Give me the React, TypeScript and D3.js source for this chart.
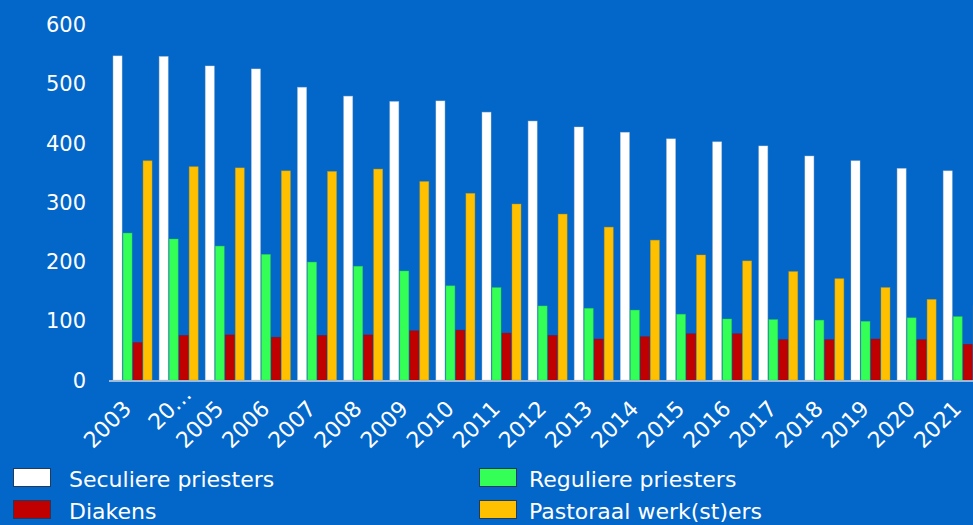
import React, { useEffect, useRef } from "react";
import * as d3 from "d3";

const years = [
  "2003", "2004", "2005", "2006", "2007", "2008", "2009", "2010", "2011", "2012",
  "2013", "2014", "2015", "2016", "2017", "2018", "2019", "2020", "2021",
];
// the reference truncates the 2004 label
const yearLabels = years.map((y) => (y === "2004" ? "20…" : y));

const seculiere = [547, 546, 530, 525, 494, 479, 470, 471, 452, 437, 427, 418, 407, 402, 395, 378, 370, 357, 353];
const reguliere = [248, 238, 226, 212, 199, 192, 184, 159, 156, 125, 121, 118, 111, 103, 102, 101, 99, 105, 107];
const diakens = [63, 75, 76, 72, 75, 76, 83, 84, 79, 75, 69, 73, 78, 78, 68, 68, 69, 68, 60];
const pastoraal = [370, 360, 358, 353, 352, 356, 335, 315, 297, 280, 258, 236, 211, 201, 183, 171, 156, 136, 125];

const seriesNames = ["Seculiere priesters", "Reguliere priesters", "Diakens", "Pastoraal werk(st)ers"];
const seriesColors = ["#ffffff", "#33ff57", "#c00000", "#ffc000"];
const yTicks = [0, 100, 200, 300, 400, 500, 600];

const W = 973;
const H = 525;
const BG = "#0366c9";
const FONT = "'DejaVu Sans', sans-serif";

const App: React.FC = () => {
  const svgRef = useRef<SVGSVGElement>(null);

  useEffect(() => {
    const svg = d3.select(svgRef.current);
    svg.selectAll("*").remove();

    const table = years.map((year, i) => ({
      year,
      values: [seculiere[i], reguliere[i], diakens[i], pastoraal[i]],
    }));

    const x = d3
      .scaleBand()
      .domain(years)
      .range([109.5, 985.8])
      .paddingInner(0.133)
      .paddingOuter(0.0665);
    const xSub = d3
      .scaleBand<number>()
      .domain([0, 1, 2, 3])
      .range([0, x.bandwidth()]);
    const y = d3.scaleLinear().domain([0, 600]).range([380, 24.5]);

    svg.append("rect").attr("width", W).attr("height", H).attr("fill", BG);

    // bars
    const groups = svg
      .append("g")
      .selectAll("g")
      .data(table)
      .join("g")
      .attr("transform", (d) => `translate(${x(d.year)},0)`);
    groups
      .selectAll("rect")
      .data((d) => d.values)
      .join("rect")
      .attr("x", (_, i) => xSub(i)! + 0.5)
      .attr("y", (v) => y(v))
      .attr("width", xSub.bandwidth() - 1)
      .attr("height", (v) => y(0) - y(v))
      .attr("fill", (_, i) => seriesColors[i])
      .attr("stroke", (_, i) => d3.color(seriesColors[i])!.darker(0.6).formatHex())
      .attr("stroke-opacity", 0.5)
      .attr("stroke-width", 0.8);

    // x axis line
    svg
      .append("line")
      .attr("x1", 109)
      .attr("x2", W)
      .attr("y1", 381)
      .attr("y2", 381)
      .attr("stroke", "#cfd6de")
      .attr("stroke-width", 1.6);

    // y tick labels
    svg
      .append("g")
      .selectAll("text")
      .data(yTicks)
      .join("text")
      .attr("x", 86)
      .attr("y", (d) => y(d))
      .attr("dy", "0.36em")
      .attr("text-anchor", "end")
      .attr("fill", "#ffffff")
      .style("font-family", FONT)
      .style("font-size", "21px")
      .text((d) => d);

    // x tick labels
    svg
      .append("g")
      .selectAll("text")
      .data(years)
      .join("text")
      .attr("transform", (d) => `translate(${x(d)! + x.bandwidth() / 2},410) rotate(-45)`)
      .attr("dx", (_, i) => (yearLabels[i] !== years[i] ? 20 : 0))
      .attr("text-anchor", "end")
      .attr("fill", "#ffffff")
      .style("font-family", FONT)
      .style("font-size", "22px")
      .text((_, i) => yearLabels[i]);

    // legend
    const legendCol = [13, 479];
    const legendTextCol = [69, 529];
    const legendRow = [468, 500];
    const order = [0, 1, 2, 3];
    const legend = svg
      .append("g")
      .selectAll("g")
      .data(order)
      .join("g");
    legend
      .append("rect")
      .attr("x", (i) => legendCol[i % 2] + 0.5)
      .attr("y", (i) => legendRow[Math.floor(i / 2)] + 0.5)
      .attr("width", 37)
      .attr("height", 18)
      .attr("fill", (i) => seriesColors[i === 1 ? 1 : i === 2 ? 2 : i])
      .attr("stroke", "#243a5a")
      .attr("stroke-width", 1);
    legend
      .append("text")
      .attr("x", (i) => legendTextCol[i % 2])
      .attr("y", (i) => legendRow[Math.floor(i / 2)] + 19)
      .attr("fill", "#ffffff")
      .style("font-family", FONT)
      .style("font-size", "22px")
      .text((i) => seriesNames[i]);
  }, []);

  return (
    <div>
      <style>{`body{margin:0;overflow:hidden;}`}</style>
      <svg ref={svgRef} width={W} height={H} style={{ display: "block" }} />
    </div>
  );
};

export default App;
